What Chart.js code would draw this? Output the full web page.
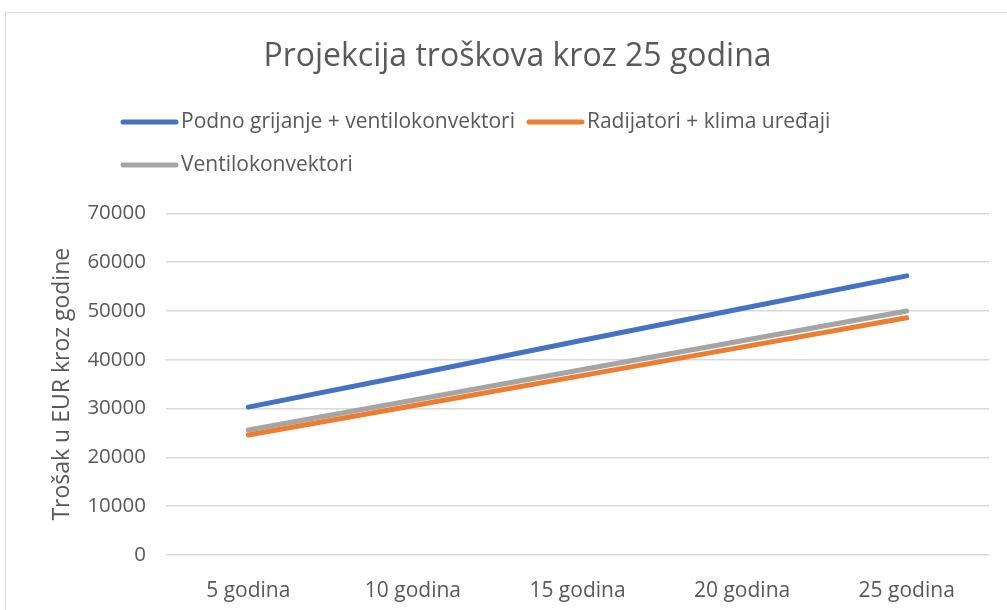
<!DOCTYPE html>
<html>
<head>
<meta charset="utf-8">
<script src="https://cdn.jsdelivr.net/npm/chart.js@4"></script>
<style>
  html, body { margin: 0; padding: 0; background: #fff; overflow: hidden; }
  #wrap { position: relative; width: 1007px; height: 610px; }
  #frame { position: absolute; left: 5px; top: 12px; width: 1100px; height: 700px; border: 1px solid #d9d9d9; }
  canvas { position: absolute; left: 0; top: 0; }
</style>
</head>
<body>
<div id="wrap">
  <div id="frame"></div>
  <canvas id="myGraph" width="1007" height="610"></canvas>
</div>
<script>
const labels = ["5 godina", "10 godina", "15 godina", "20 godina", "25 godina"];
const podnoVentilo = [30300, 37000, 43800, 50500, 57200];
const radijatoriKlima = [24600, 30600, 36600, 42600, 48600];
const ventilokonvektori = [25600, 31700, 37800, 43900, 50000];

const textColor = "#595959";
const fontName = "'Open Sans', 'Noto Sans', sans-serif";

// legend drawn by hand so the spacing looks like the Excel one
const lineLegend = {
   id: "lineLegend",
   afterDraw(chart) {
      const ctx = chart.ctx;
      ctx.save();
      ctx.font = "21px " + fontName;
      ctx.textBaseline = "middle";
      ctx.textAlign = "left";
      let x = 121, y = 122;
      chart.data.datasets.forEach((ds) => {
         const w = 57 + 3 + ctx.measureText(ds.label).width;
         if (x + w > 990) { x = 121; y += 43; }
         ctx.strokeStyle = ds.borderColor;
         ctx.lineWidth = 5;
         ctx.lineCap = "round";
         ctx.beginPath();
         ctx.moveTo(x + 2, y);
         ctx.lineTo(x + 55, y);
         ctx.stroke();
         ctx.fillStyle = textColor;
         ctx.fillText(ds.label, x + 60, y);
         x += w + 12;
      });
      ctx.restore();
   }
};

const canvas = document.querySelector("#myGraph").getContext("2d");
let chart = new Chart(canvas, {
   type: "line",
   data: {
      labels: labels,
      datasets: [
         {
            label: "Podno grijanje + ventilokonvektori",
            data: podnoVentilo,
            borderColor: "#4472C4",
            backgroundColor: "#4472C4"
         },
         {
            label: "Radijatori + klima uređaji",
            data: radijatoriKlima,
            borderColor: "#ED7D31",
            backgroundColor: "#ED7D31"
         },
         {
            label: "Ventilokonvektori",
            data: ventilokonvektori,
            borderColor: "#A5A5A5",
            backgroundColor: "#A5A5A5"
         }
      ]
   },
   options: {
      responsive: false,
      animation: false,
      devicePixelRatio: 1,
      elements: {
         line: { borderWidth: 5, borderCapStyle: "round", tension: 0 },
         point: { radius: 0, hoverRadius: 0 }
      },
      layout: {
         padding: { left: 46, right: 18, top: 0, bottom: 0 }
      },
      plugins: {
         legend: { display: false },
         tooltip: { enabled: false },
         title: {
            display: true,
            text: "Projekcija troškova kroz 25 godina",
            color: textColor,
            font: { family: fontName, size: 32, weight: "normal" },
            padding: { top: 38, bottom: 137 }
         }
      },
      scales: {
         x: {
            offset: true,
            grid: { display: false },
            border: { display: false },
            ticks: {
               color: textColor,
               padding: 15,
               font: { family: fontName, size: 21 }
            },
            afterFit(scale) { scale.height = 55; }
         },
         y: {
            min: 0,
            max: 70000,
            grid: { color: "#d9d9d9", lineWidth: 1.5, drawTicks: false },
            border: { display: false },
            ticks: {
               stepSize: 10000,
               color: textColor,
               padding: 20,
               font: { family: fontName, size: 20.5 },
               callback: (v) => String(v)
            },
            title: {
               display: true,
               text: "Trošak u EUR kroz godine",
               color: textColor,
               font: { family: fontName, size: 23 },
               padding: { top: 3, bottom: 4 }
            },
            afterFit(scale) { scale.width = 120; }
         }
      }
   },
   plugins: [lineLegend]
});
</script>
</body>
</html>
